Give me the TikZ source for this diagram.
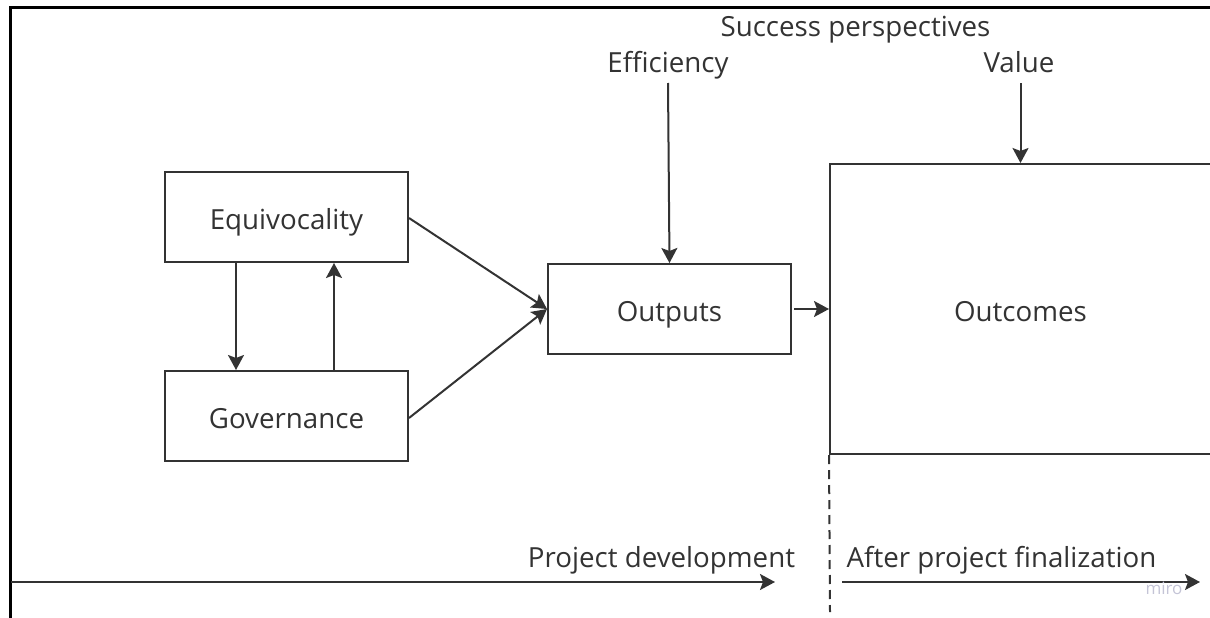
\documentclass[tikz,border=0pt]{standalone}
\usepackage{fontspec}
\setmainfont{Open Sans}
\usetikzlibrary{arrows.meta}
\definecolor{ink}{HTML}{333333}
\definecolor{wm}{HTML}{C4C4D6}
\tikzset{
  txt/.style={font=\fontsize{27.7}{33}\selectfont},
  box/.style={txt, draw=ink, line width=2pt, fill=white, inner sep=0pt, text=ink,
    text height=30pt, text depth=6pt},
  lbl/.style={txt, text=ink, inner sep=0pt},
  arr/.style={draw=ink, line width=2pt,
    -{Stealth[length=15pt,width=16pt,inset=3pt]}},
  frameline/.style={draw=black, line width=3pt},
}
\begin{document}
\begin{tikzpicture}[x=1pt,y=-1pt]
\useasboundingbox (0,0) rectangle (1210,618);

% outer frame (top and left edges)
\draw[frameline] (1212,8) -- (10,8) -- (10,620);

% boxes
\node[box, minimum width=243pt, minimum height=90pt] (equiv) at (286.5,217) {Equivocality};
\node[box, minimum width=243pt, minimum height=90pt] (gov)   at (286.5,416) {Governance};
\node[box, minimum width=243pt, minimum height=90pt] (out)   at (669.5,309) {Outputs};
\node[box, minimum width=381pt, minimum height=290pt] (oc)   at (1020.5,309) {Outcomes};

% labels on top
\node[lbl, anchor=base] (succ) at (855.5,37) {Success perspectives};
\node[lbl, anchor=base] (eff)  at (668,73) {Efficiency};
\node[lbl, anchor=base] (val)  at (1019,73) {Value};

% connectors
\draw[arr] ([xshift=72pt]equiv.south west) -- ([xshift=72pt]gov.north west);
\draw[arr] ([xshift=170pt]gov.north west) -- ([xshift=170pt]equiv.south west);
\draw[arr] ([yshift=-1pt]equiv.east) -- (out.west);
\draw[arr] ([yshift=-2pt]gov.east) -- (out.west);
\draw[arr] ([xshift=2pt]out.east) -- (oc.west);
\draw[arr] ([yshift=-10pt]eff.base) -- (out.north);
\draw[arr] ([yshift=-10pt]val.base -| oc.north) -- (oc.north);

% time line
\coordinate (pd0) at (11,582);
\coordinate (pd1) at (775,582);
\coordinate (af0) at (842,582);
\coordinate (af1) at (1200,582);
\coordinate (cut) at (830,612);
\draw[arr] (pd0) -- (pd1);
\draw[arr] (af0) -- (af1);
\draw[draw=ink, line width=2pt, dash pattern=on 9pt off 6pt] (oc.south west) -- (cut);
\node[lbl, anchor=base] (pd) at (661.5,567) {Project development};
\node[lbl, anchor=base] (af) at (1001.5,567) {After project finalization};

% watermark
\node[text=wm, inner sep=0pt, anchor=base, font=\fontsize{17}{20}\selectfont] (miro) at (1164,594) {miro};
\end{tikzpicture}
\end{document}
